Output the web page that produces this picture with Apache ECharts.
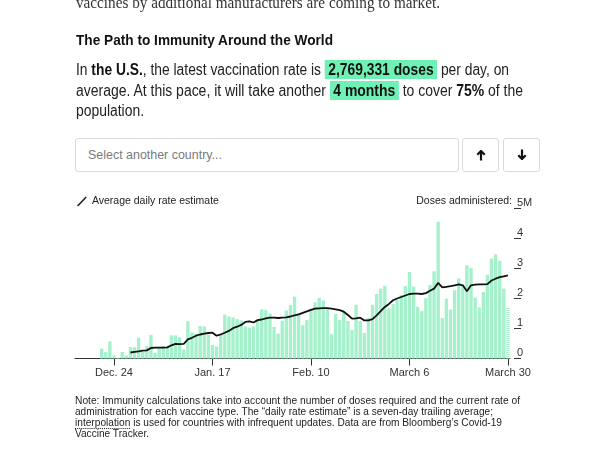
<!DOCTYPE html>
<html><head><meta charset="utf-8">
<script src="https://cdn.jsdelivr.net/npm/echarts@6/dist/echarts.min.js"></script>
<style>
html,body{margin:0;padding:0;background:#fff;width:615px;height:457px;overflow:hidden;}
#chart{position:absolute;left:0;top:0;width:615px;height:457px;z-index:1;}
.t{position:absolute;white-space:nowrap;transform-origin:0 0;font-family:"Liberation Sans",Arial,sans-serif;color:#222;z-index:2;}
.hl{background:#6FF0B4;font-weight:bold;padding:1px 4px;color:#111;}
b{color:#111;}
.box{position:absolute;border:1px solid #dadada;border-radius:3px;box-sizing:border-box;background:#fff;z-index:2;}
.arrow{position:absolute;z-index:3;}
.dot{border-bottom:1px dotted #222;}
</style></head>
<body>
<div id="chart"></div>

<div class="t" data-w="364" style="left:75.6px;top:-5px;font-size:16px;line-height:16px;font-family:'Liberation Serif',serif;color:#333">vaccines by additional manufacturers are coming to market.</div>

<div class="t" data-w="257" style="left:75.6px;top:31.6px;font-size:15px;line-height:15px;font-weight:bold;color:#111">The Path to Immunity Around the World</div>

<div class="t" data-w="433" style="left:75.6px;top:61.5px;font-size:16px;line-height:16px">In <b>the U.S.</b>, the latest vaccination rate is <span class="hl">2,769,331 doses</span> per day, on</div>
<div class="t" data-w="447" style="left:75.6px;top:83px;font-size:16px;line-height:16px">average. At this pace, it will take another <span class="hl">4 months</span> to cover <b>75%</b> of the</div>
<div class="t" data-w="68" style="left:75.6px;top:103px;font-size:16px;line-height:16px">population.</div>

<div class="box" style="left:75px;top:138px;width:384px;height:34px;"></div>
<div class="t" data-w="134" style="left:88px;top:148.7px;font-size:12.5px;line-height:12.5px;color:#7a7a7a">Select another country...</div>
<div class="box" style="left:462px;top:138px;width:37px;height:34px;"></div>
<div class="box" style="left:503px;top:138px;width:37px;height:34px;"></div>
<svg class="arrow" style="left:476px;top:150px;" width="10" height="11" viewBox="0 0 10 11"><path d="M5 1 L5 10.5 M1.3 4.8 L5 1 L8.7 4.8" stroke="#111" stroke-width="2.2" fill="none"/></svg>
<svg class="arrow" style="left:517px;top:149px;" width="10" height="11" viewBox="0 0 10 11"><path d="M5 0.5 L5 10 M1.3 6.2 L5 10 L8.7 6.2" stroke="#111" stroke-width="2.2" fill="none"/></svg>

<div class="t" data-w="445" style="left:75px;top:395px;font-size:10.5px;line-height:11px;color:#222">Note: Immunity calculations take into account the number of doses required and the current rate of</div>
<div class="t" data-w="418" style="left:75px;top:406px;font-size:10.5px;line-height:11px;color:#222">administration for each vaccine type. The “daily rate estimate” is a seven-day trailing average;</div>
<div class="t" data-w="427" style="left:75px;top:417px;font-size:10.5px;line-height:11px;color:#222"><span class="dot">interpolation</span> is used for countries with infrequent updates. Data are from Bloomberg’s Covid-19</div>
<div class="t" data-w="74" style="left:75px;top:428px;font-size:10.5px;line-height:11px;color:#222">Vaccine Tracker.</div>

<script>
// ---- data ----
var startDate = '2020-12-15';
var dayCount = 106; // Dec 15, 2020 .. Mar 30, 2021
var tickDates = ['2020-12-24', '2021-01-17', '2021-02-10', '2021-03-06', '2021-03-30'];
var tickLabels = ['Dec. 24', 'Jan. 17', 'Feb. 10', 'March 6', 'March 30'];
var yTickLabels = ['0', '1', '2', '3', '4', '5M'];

// daily doses administered, millions
var dailyDoses = [
  null, null, null, null, null, null,
  0.33, 0.22, 0.57, 0.10, 0.02, 0.22, 0.10, 0.38, 0.38, 0.69,
  0.22, 0.41, 0.79, 0.19, 0.36, 0.41, 0.36, 0.77, 0.77, 0.71,
  0.30, 1.24, 0.87, 0.82, 1.08, 1.07, 0.80, 0.45, 0.40, 0.84,
  1.46, 1.40, 1.37, 1.31, 1.27, 1.07, 1.03, 1.07, 1.29, 1.64,
  1.62, 1.50, 1.05, 0.83, 1.26, 1.60, 1.78, 2.06, 1.50, 1.11,
  1.28, 1.65, 1.87, 2.02, 1.93, 1.67, 0.81, 1.48, 1.28, 1.55,
  1.25, 0.94, 1.79, 1.25, 0.85, 1.35, 1.79, 2.15, 2.33, 2.42,
  1.67, 1.82, 1.95, 2.12, 2.41, 2.88, 2.40, 1.72, 1.58, 2.01,
  2.45, 2.91, 4.56, 1.35, 2.00, 1.63, 2.28, 2.67, 2.47, 3.11,
  3.02, 2.03, 1.70, 2.22, 2.79, 3.33, 3.47, 3.26, 2.33, 1.72
];
var partialIndex = 105; // latest day, incomplete

// average daily rate estimate, millions
var avgRate = [
  null, null, null, null, null, null, null, null, null, null, null, null, null,
  0.20, 0.22, 0.24, 0.26, 0.27, 0.35, 0.36, 0.36, 0.36, 0.37,
  0.44, 0.49, 0.48, 0.49, 0.64, 0.69, 0.76, 0.80, 0.83, 0.85,
  0.86, 0.76, 0.80, 0.86, 0.92, 1.01, 1.06, 1.12, 1.22, 1.24,
  1.20, 1.28, 1.30, 1.34, 1.36, 1.36, 1.35, 1.36, 1.37, 1.40,
  1.44, 1.47, 1.52, 1.57, 1.62, 1.66, 1.67, 1.68, 1.68, 1.66,
  1.64, 1.61, 1.56, 1.45, 1.33, 1.34, 1.36, 1.27, 1.27, 1.31,
  1.44, 1.58, 1.72, 1.82, 1.94, 2.00, 2.05, 2.10, 2.15, 2.16,
  2.16, 2.15, 2.18, 2.26, 2.33, 2.52, 2.37, 2.39, 2.41, 2.44,
  2.47, 2.44, 2.24, 2.44, 2.46, 2.47, 2.47, 2.48, 2.60, 2.66,
  2.71, 2.74, 2.77
];

// categories (dates)
var categories = [];
(function () {
  var d0 = new Date(startDate + 'T00:00:00Z');
  for (var i = 0; i < dayCount; i++) {
    var d = new Date(d0.getTime() + i * 86400000);
    categories.push(d.toISOString().slice(0, 10));
  }
})();

// ---- fit text widths ----
document.querySelectorAll('.t[data-w]').forEach(function (el) {
  var w = el.getBoundingClientRect().width;
  var target = parseFloat(el.getAttribute('data-w'));
  if (w > 0) el.style.transform = 'scaleX(' + (target / w) + ')';
});

// ---- chart ----
var FONT = '"Liberation Sans", Arial, sans-serif';
var barColor = '#A5F1CC';
var stripe = document.createElement('canvas');
stripe.width = 4; stripe.height = 2;
(function () {
  var c = stripe.getContext('2d');
  c.fillStyle = '#ffffff'; c.fillRect(0, 0, 4, 2);
  c.fillStyle = barColor; c.fillRect(0, 0, 4, 1);
})();

var barData = dailyDoses.map(function (v, i) {
  if (i === partialIndex) return { value: v, itemStyle: { color: { image: stripe, repeat: 'repeat' } } };
  return v;
});

var tickIdx = tickDates.map(function (d) { return categories.indexOf(d); });

var chart = echarts.init(document.getElementById('chart'), null, { renderer: 'canvas' });
chart.setOption({
  animation: false,
  textStyle: { fontFamily: FONT },
  grid: { left: 75, right: 105, top: 208.5, bottom: 98.5, containLabel: false },
  legend: {
    left: 77, top: 196, padding: 0, itemWidth: 10, itemHeight: 10, itemGap: 10,
    textStyle: { fontFamily: FONT, fontSize: 10.5, color: '#222' },
    data: [{ name: 'Average daily rate estimate', icon: 'path://M0,9.2 L8.8,0 L10,1 L1.2,10.2 Z', itemStyle: { color: '#222' } }]
  },
  graphic: [{
    type: 'text', right: 615 - 512, top: 196,
    style: { text: 'Doses administered:', font: '10.5px ' + FONT, fill: '#222' }
  }],
  xAxis: {
    type: 'category', data: categories, boundaryGap: true,
    axisLine: { show: true, lineStyle: { color: '#333', width: 1 } },
    axisTick: { show: true, length: 7, alignWithLabel: true, lineStyle: { color: '#333' },
      interval: function (i) { return tickIdx.indexOf(i) >= 0; } },
    axisLabel: {
      margin: 9, fontSize: 11, color: '#333', fontFamily: FONT,
      interval: function (i) { return tickIdx.indexOf(i) >= 0; },
      formatter: function (v) { var k = tickDates.indexOf(v); return k >= 0 ? tickLabels[k] : ''; }
    },
    splitLine: { show: false }
  },
  yAxis: {
    type: 'value', position: 'right', min: 0, max: 5, interval: 1, offset: 4,
    axisLine: { show: false },
    axisTick: { show: true, length: 7, lineStyle: { color: '#333' } },
    axisLabel: {
      margin: 3, fontSize: 11, color: '#333', fontFamily: FONT, verticalAlign: 'bottom', lineHeight: 12,
      formatter: function (v) { return yTickLabels[Math.round(v)]; }
    },
    splitLine: { show: false }
  },
  series: [
    {
      name: 'Daily doses', type: 'bar', data: barData, barCategoryGap: '18%',
      itemStyle: { color: barColor }, z: 2
    },
    {
      name: 'Average daily rate estimate', type: 'line', data: avgRate,
      symbol: 'none', lineStyle: { color: '#111', width: 1.8 }, itemStyle: { color: '#111' },
      connectNulls: false, z: 3
    }
  ]
});
</script>
</body></html>
